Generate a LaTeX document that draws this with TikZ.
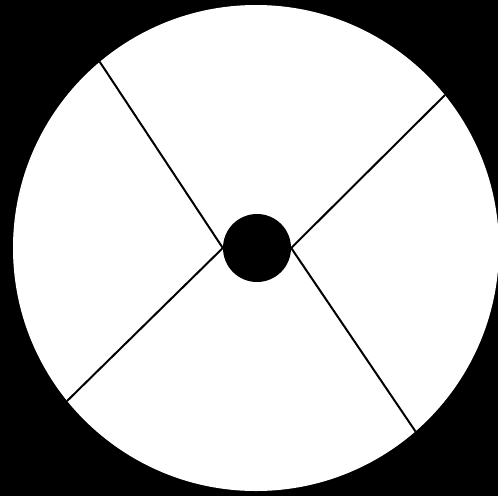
\documentclass[tikz,border=0pt]{standalone}
\begin{document}
\begin{tikzpicture}[x=1pt,y=-1pt,
  spoke/.style={draw=black,line width=2pt},
  hub/.style={circle,fill=black,minimum size=68pt,inner sep=0pt},
  wheel/.style={circle,fill=white,minimum size=486pt,inner sep=0pt}]
\fill[black] (0,0) rectangle (498,496);
\useasboundingbox (0,0) rectangle (498,496);
\node[wheel] (rim) at (256,248) {};
\node[hub] (center) at (257,248) {};
\draw[spoke] (center.west) -- (rim.130.4);
\draw[spoke] (center.west) -- (rim.219.7);
\draw[spoke] (center.east) -- (rim.39.1);
\draw[spoke] (center.east) -- (rim.311);
\end{tikzpicture}
\end{document}
